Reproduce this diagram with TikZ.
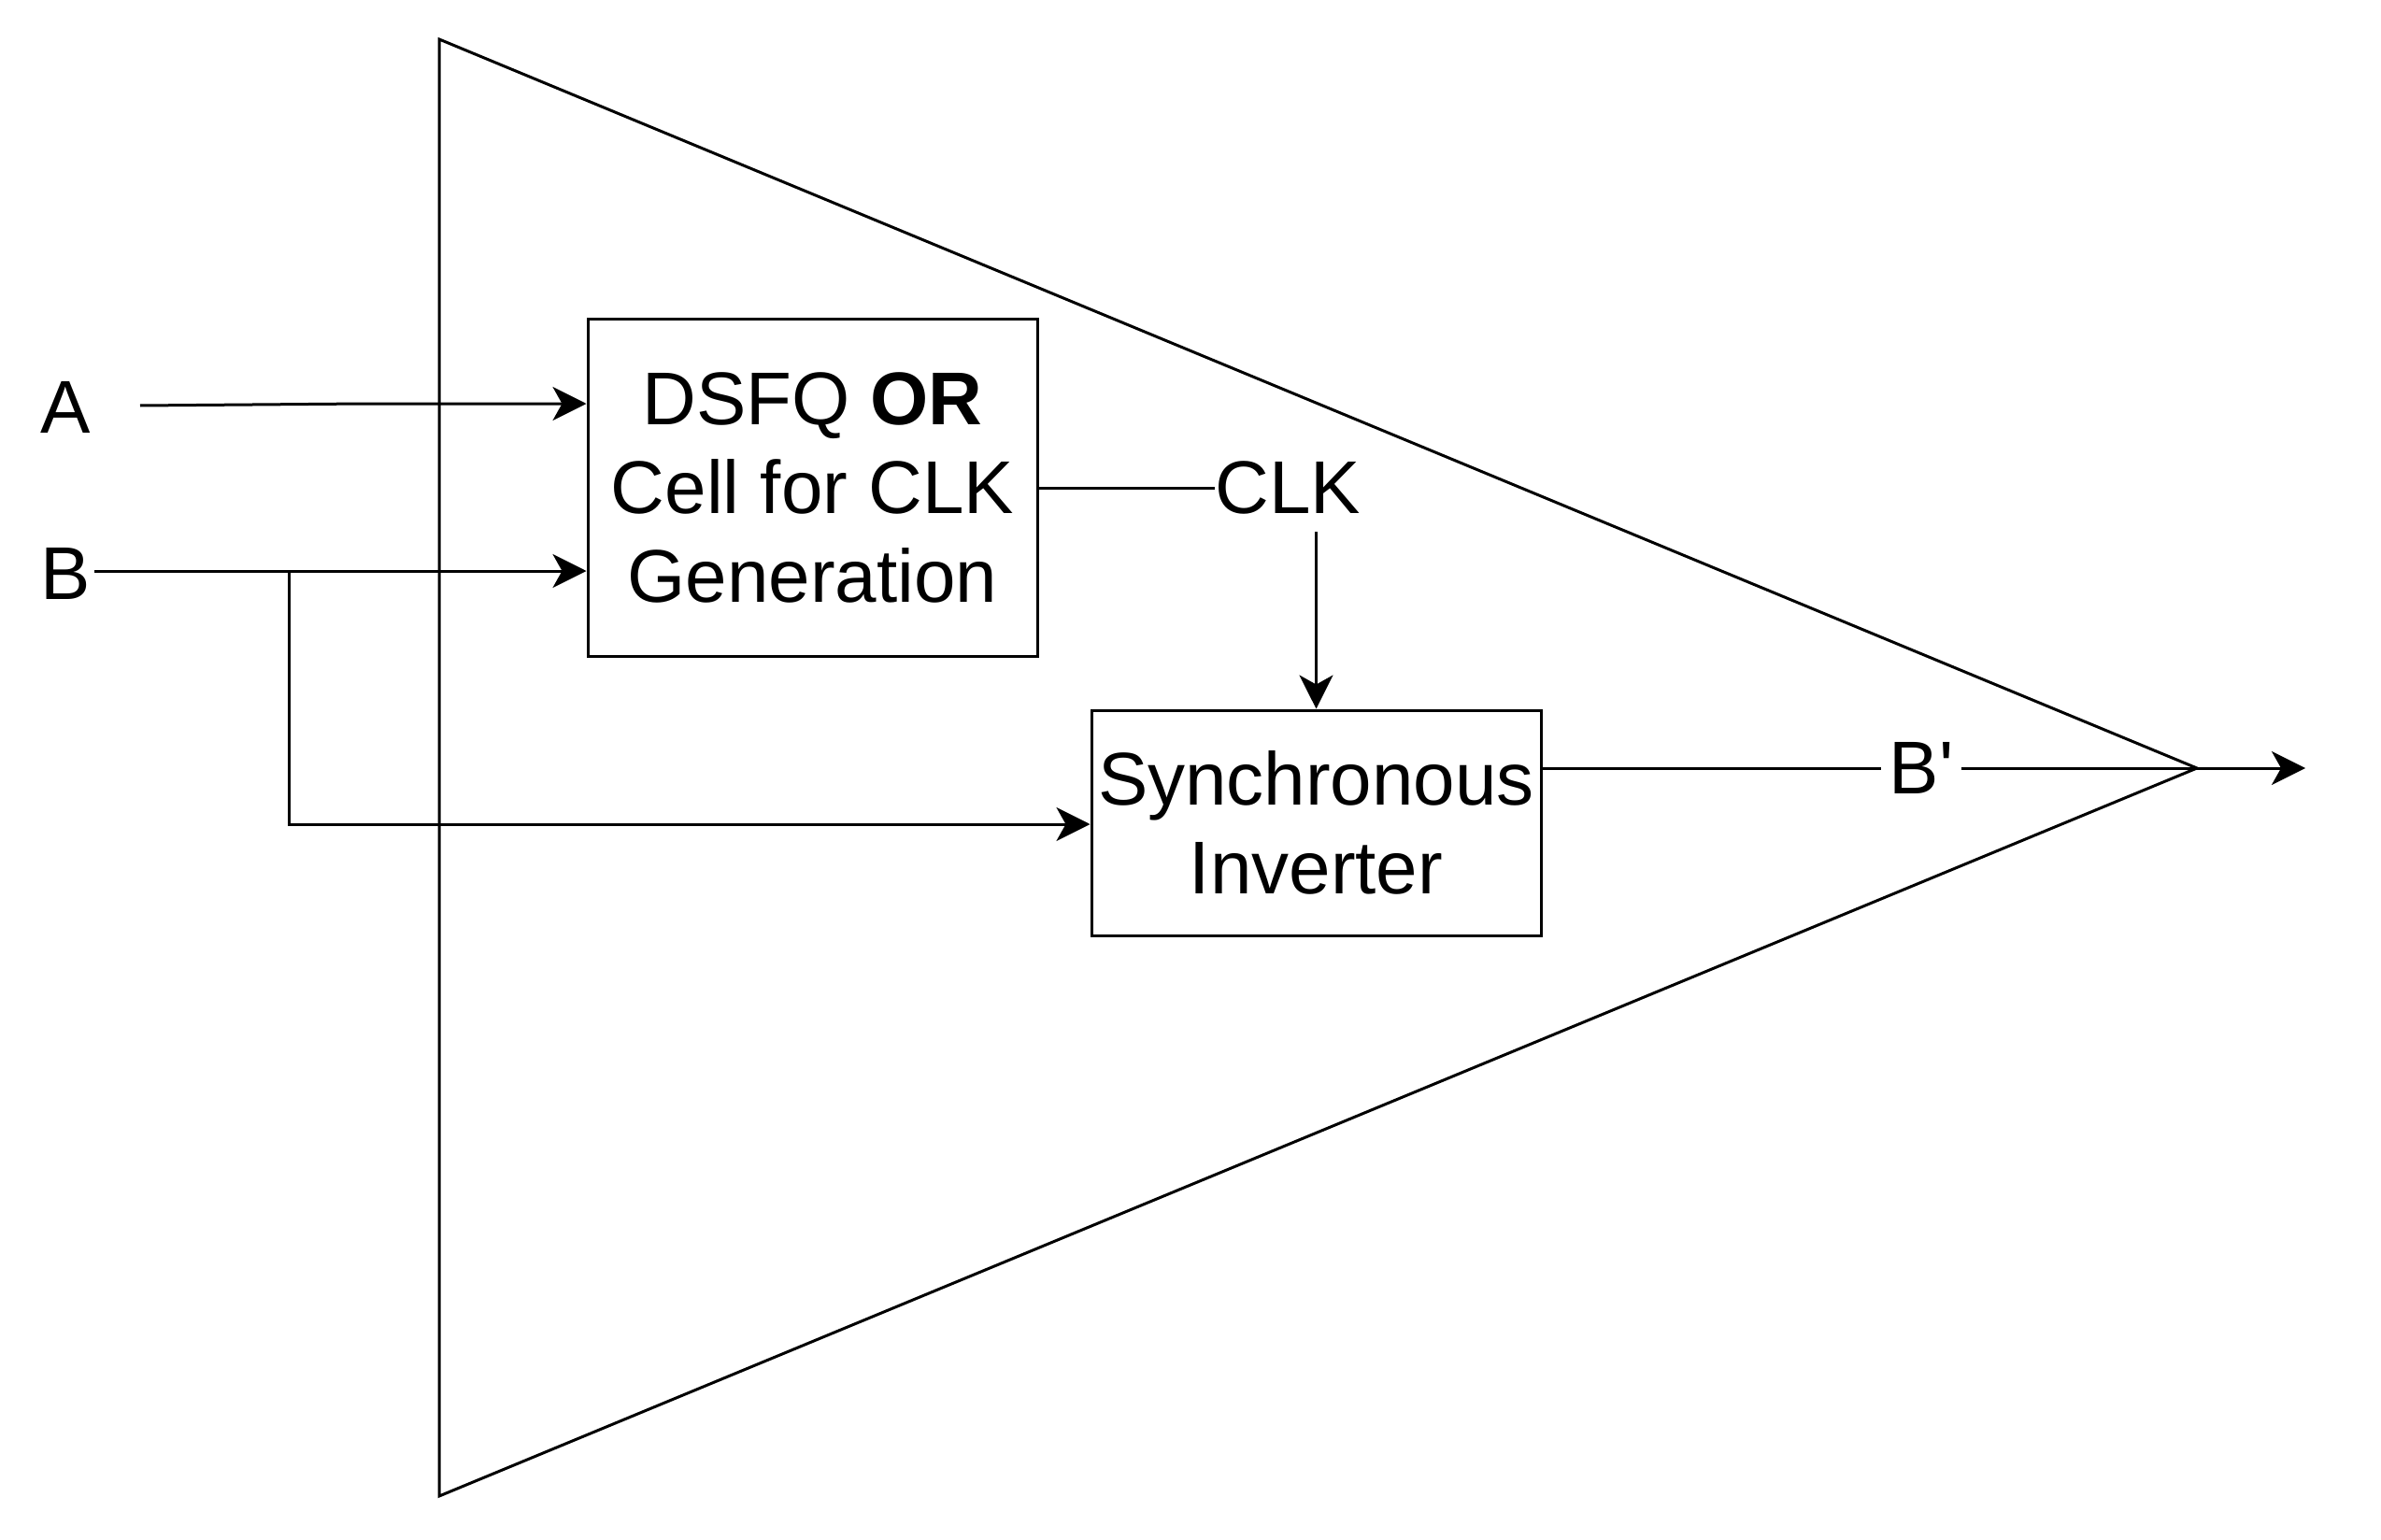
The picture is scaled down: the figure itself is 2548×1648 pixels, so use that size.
\documentclass[tikz,border=0pt]{standalone}
\usepackage{fontspec}
\setmainfont{Liberation Sans}
\usetikzlibrary{arrows.meta}
\begin{document}
\begin{tikzpicture}[x=0.5pt,y=-0.5pt,
  every node/.style={font=\fontsize{40}{47.5}\selectfont},
  wire/.style={line width=1.5pt},
  arr/.style={wire,-{Stealth[length=18pt,width=18pt,inset=5pt]}},
  blockbox/.style={draw,line width=1.5pt,minimum width=481*0.5pt,inner sep=0pt,align=center},
  lbl/.style={inner sep=2pt}]
\useasboundingbox (0,0) rectangle (2548,1648);
% big triangle
\draw[wire,line join=miter] (470,42) -- (2351,822) -- (470,1601) -- cycle;
% blocks
\node[blockbox,minimum height=361*0.5pt] (orc) at (869.5,521.5) {DSFQ \textbf{OR}\\Cell for CLK\\Generation};
\node[blockbox,minimum height=241*0.5pt] (inv) at (1408.5,880.5) {Synchronous\\Inverter};
% labels
\node[lbl] (A) at (70,436) {A};
\node[lbl] (B) at (70,614) {B};
\node[lbl,anchor=west,inner sep=0pt] (clk) at (1300,522) {CLK};
\node[lbl,inner sep=4pt] (bp) at (2056,822) {B\textquotesingle};
\coordinate (a0) at (150,434);
\coordinate (a1) at (390,432);
\coordinate (br) at (309,611);
\coordinate (out) at (2467,822);
% connectors
\draw[arr] (a0) -- (a1) -- (a1 -| orc.west);
\draw[arr] (B.east |- br) -- (br -| orc.west);
\draw[arr] (br) -- (309,882) -- (inv.west |- 0,882);
\draw[wire] (orc.east |- clk.west) -- (clk.west);
\draw[arr] (inv.north |- 0,569) -- (inv.north);
\draw[wire] (inv.east |- bp) -- (bp.west);
\draw[arr] (bp.east) -- (out);
\end{tikzpicture}
\end{document}
